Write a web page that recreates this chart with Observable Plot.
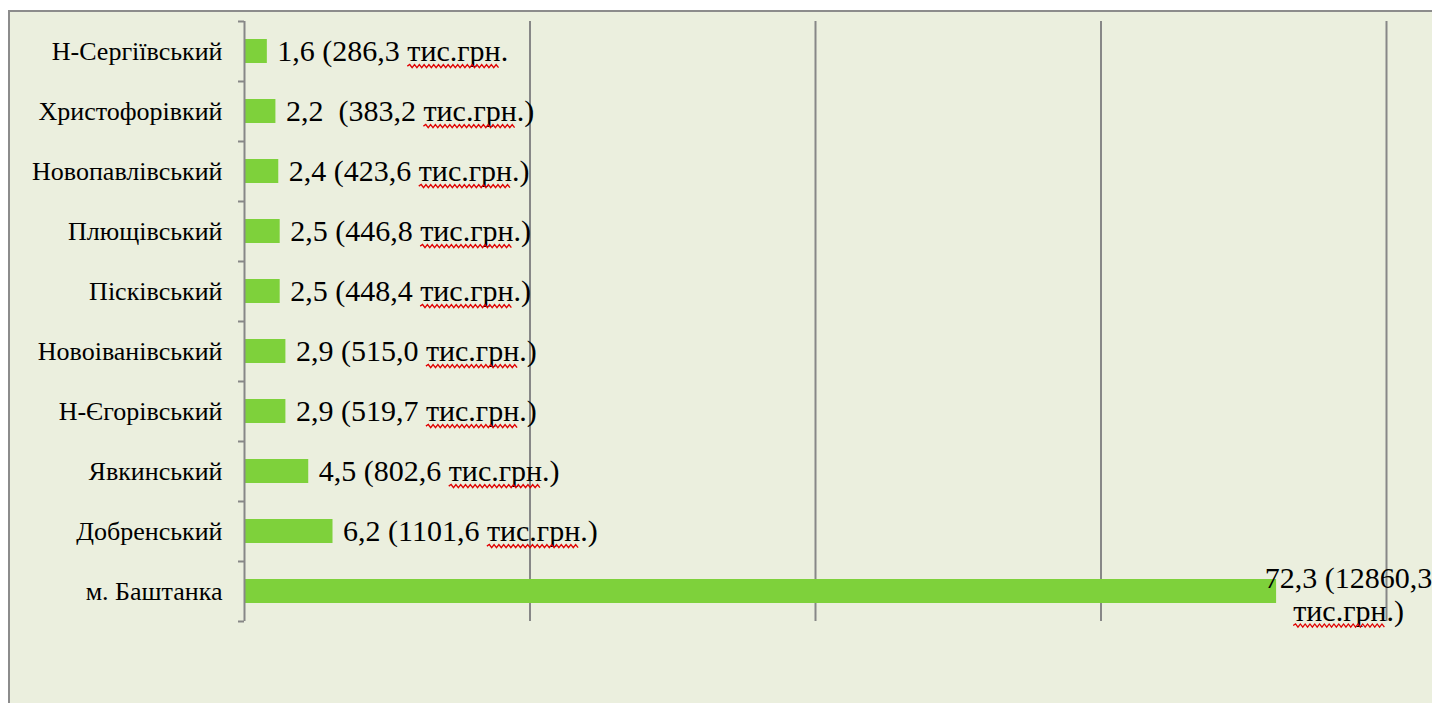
<!DOCTYPE html>
<html><head><meta charset="utf-8">
<script src="https://cdn.jsdelivr.net/npm/d3@7"></script>
<script src="https://cdn.jsdelivr.net/npm/@observablehq/plot@0.6"></script>
<style>
html,body{margin:0;padding:0;background:#fff;overflow:hidden}
#chart{position:absolute;left:8px;top:10px;width:1424px;height:693px;border-left:2px solid #8c8c8c;border-top:2px solid #8c8c8c;background:#EBEFDE}
#chart svg{overflow:visible;display:block}
#chart svg, #chart svg text{font-family:"Liberation Serif","Times New Roman",serif !important}
</style></head><body><div id="chart"></div>
<script>
const districts = ["Н-Сергіївський","Христофорівкий","Новопавлівський","Плющівський","Пісківський","Новоіванівський","Н-Єгорівський","Явкинський","Добренський","м. Баштанка"];
const shares = [1.6, 2.2, 2.4, 2.5, 2.5, 2.9, 2.9, 4.5, 6.2, 72.3];
const labels = ["1,6 (286,3 тис.грн.","2,2 \u00a0(383,2 тис.грн.)","2,4 (423,6 тис.грн.)","2,5 (446,8 тис.грн.)","2,5 (448,4 тис.грн.)","2,9 (515,0 тис.грн.)","2,9 (519,7 тис.грн.)","4,5 (802,6 тис.грн.)","6,2 (1101,6 тис.грн.)","72,3 (12860,3\nтис.грн.)"];
const gridTicks = [20, 40, 60, 80];

const data = districts.map((d, i) => ({district: d, share: shares[i], label: labels[i]}));
const main = data.slice(0, -1);
const last = data.slice(-1);
const gray = "#878787";
const serif = "'Liberation Serif','Times New Roman',serif";

const chart = Plot.plot({
  width: 1422, height: 691,
  marginLeft: 234, marginTop: 9, marginBottom: 82, marginRight: 46,
  style: {background: "transparent", fontFamily: serif, color: "#000", overflow: "visible"},
  x: {domain: [0, 80], axis: null},
  y: {domain: districts, paddingInner: 0.6, paddingOuter: 0.3, label: null},
  marks: [
    Plot.ruleX(gridTicks, {stroke: gray, strokeWidth: 2}),
    Plot.barX(data, {y: "district", x: "share", fill: "#7ED13B"}),
    Plot.ruleX([0], {stroke: gray, strokeWidth: 2}),
    Plot.axisY({tickSize: 0, tickPadding: 22, fontSize: 26, fill: "#000", label: null, fontFamily: serif}),
    Plot.axisY({text: null, tickSize: 6, dy: -30, stroke: gray, strokeWidth: 2, label: null}),
    Plot.axisY([districts[districts.length - 1]], {text: null, tickSize: 6, dy: 30, stroke: gray, strokeWidth: 2, label: null}),
    Plot.text(main, {y: "district", x: "share", text: "label", textAnchor: "start", dx: 10, fontSize: 30, fill: "#000", fontFamily: serif}),
    Plot.text(last, {y: "district", x: "share", text: "label", textAnchor: "middle", dx: 72, dy: 2, fontSize: 30, lineHeight: 1.1, fill: "#000", fontFamily: serif})
  ]
});
document.getElementById("chart").append(chart);

// red wavy spell-check underline under "тис.грн", measured from the rendered text
const word = "тис.грн";
d3.select(chart).selectAll("text").each(function() {
  const t = this.textContent;
  const k = t.indexOf(word);
  if (k < 0) return;
  const p0 = this.getStartPositionOfChar(k);
  const p1 = this.getEndPositionOfChar(k + word.length - 1);
  const y = p0.y + 5;
  let dpath = `M${p0.x},${y}`;
  const step = 2.4;
  let up = true;
  for (let x = p0.x + step; x <= p1.x + 0.01; x += step) {
    dpath += `L${x},${y + (up ? -1.6 : 1.6)}`;
    up = !up;
  }
  d3.select(this.parentNode).append("path")
    .attr("d", dpath)
    .attr("transform", this.getAttribute("transform"))
    .attr("fill", "none")
    .attr("stroke", "#e00000")
    .attr("stroke-width", 1.3);
});
</script>
</body></html>
